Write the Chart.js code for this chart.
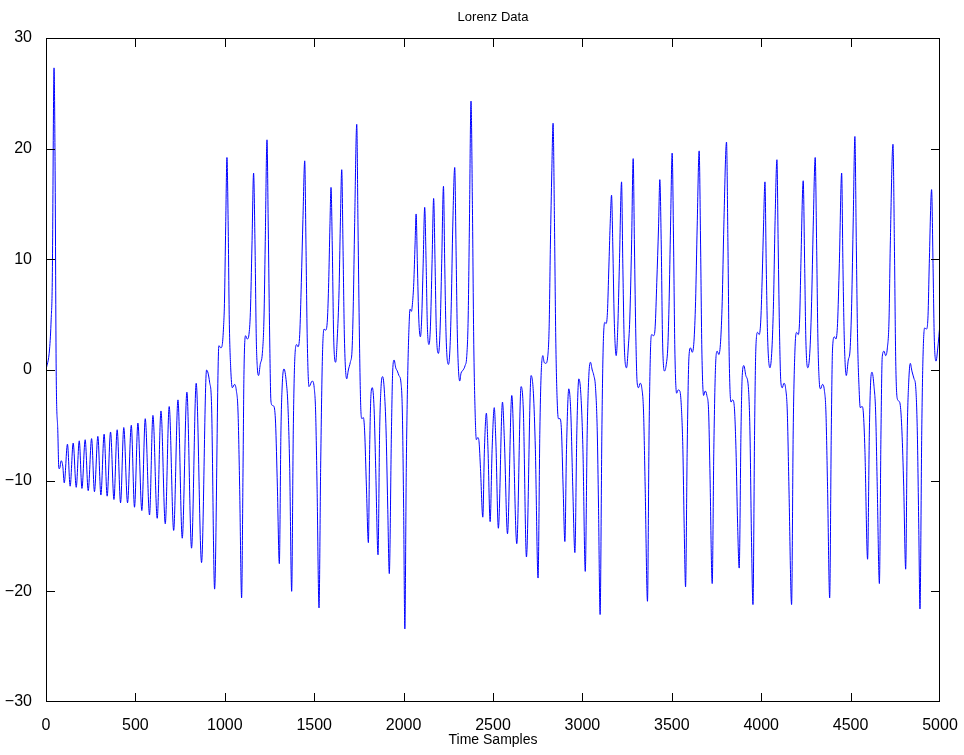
<!DOCTYPE html>
<html>
<head>
<meta charset="utf-8">
<script src="https://cdn.jsdelivr.net/npm/chart.js@4/dist/chart.umd.min.js"></script>
<style>
  html, body { margin: 0; padding: 0; background: #fff; }
  #wrap { width: 964px; height: 755px; }
</style>
</head>
<body>
<div id="wrap"><canvas id="lorenzChart" width="964" height="755"></canvas></div>
<script>
// amostras (eixo x) e valores
let amostras = [
  0, 20, 29, 35, 45, 51, 57, 66, 72, 76, 85, 94, 102, 120, 135, 152, 169, 186, 201, 219,
  236, 255, 271, 290, 307, 325, 342, 361, 380, 398, 417, 435, 456, 477, 495, 514, 536, 555, 579, 598,
  622, 643, 667, 689, 714, 738, 762, 788, 814, 840, 870, 898, 915, 926, 943, 967, 978, 986, 993, 998,
  1005, 1012, 1019, 1025, 1033, 1042, 1055, 1064, 1074, 1083, 1094, 1102, 1107, 1116, 1126, 1135, 1143, 1152, 1161, 1169,
  1176, 1182, 1189, 1198, 1210, 1219, 1226, 1236, 1243, 1251, 1258, 1266, 1275, 1284, 1294, 1305, 1314, 1322, 1331, 1344,
  1353, 1363, 1374, 1383, 1392, 1402, 1409, 1419, 1428, 1437, 1447, 1454, 1461, 1471, 1489, 1500, 1508, 1516, 1527, 1536,
  1546, 1555, 1564, 1574, 1581, 1588, 1594, 1601, 1609, 1620, 1629, 1639, 1646, 1654, 1661, 1669, 1682, 1691, 1702, 1712,
  1719, 1726, 1738, 1745, 1753, 1760, 1767, 1775, 1782, 1792, 1803, 1810, 1818, 1825, 1835, 1844, 1857, 1866, 1874, 1883,
  1892, 1902, 1911, 1920, 1932, 1939, 1947, 1956, 1965, 1974, 1985, 1993, 2000, 2007, 2015, 2023, 2032, 2036, 2044, 2049,
  2057, 2064, 2070, 2077, 2085, 2094, 2101, 2109, 2118, 2126, 2133, 2142, 2150, 2159, 2168, 2176, 2183, 2195, 2204, 2213,
  2223, 2230, 2238, 2251, 2260, 2267, 2275, 2286, 2293, 2301, 2314, 2321, 2333, 2344, 2353, 2361, 2368, 2377, 2385, 2392,
  2400, 2407, 2415, 2422, 2430, 2443, 2452, 2463, 2472, 2484, 2495, 2507, 2516, 2530, 2553, 2564, 2581, 2605, 2633, 2657,
  2670, 2687, 2713, 2726, 2737, 2752, 2762, 2769, 2779, 2786, 2795, 2806, 2814, 2821, 2829, 2836, 2844, 2851, 2859, 2866,
  2875, 2883, 2892, 2902, 2911, 2924, 2935, 2946, 2958, 2969, 2980, 2991, 3003, 3016, 3027, 3036, 3045, 3055, 3064, 3073,
  3083, 3090, 3099, 3109, 3116, 3125, 3133, 3140, 3148, 3155, 3163, 3170, 3178, 3189, 3198, 3207, 3219, 3226, 3235, 3247,
  3256, 3265, 3275, 3284, 3291, 3299, 3306, 3314, 3323, 3332, 3342, 3351, 3364, 3373, 3381, 3388, 3398, 3407, 3416, 3426,
  3433, 3441, 3448, 3459, 3469, 3478, 3485, 3493, 3502, 3510, 3517, 3527, 3536, 3545, 3553, 3562, 3569, 3577, 3586, 3596,
  3605, 3614, 3624, 3633, 3642, 3653, 3661, 3668, 3678, 3687, 3696, 3706, 3713, 3726, 3735, 3745, 3754, 3763, 3773, 3782,
  3791, 3806, 3814, 3821, 3831, 3840, 3849, 3859, 3868, 3877, 3887, 3894, 3903, 3914, 3928, 3937, 3946, 3954, 3963, 3970,
  3980, 3989, 3998, 4006, 4013, 4021, 4028, 4036, 4049, 4060, 4069, 4077, 4088, 4095, 4103, 4110, 4118, 4127, 4136, 4146,
  4155, 4170, 4179, 4189, 4198, 4207, 4215, 4222, 4235, 4243, 4250, 4261, 4273, 4282, 4291, 4302, 4310, 4317, 4325, 4332,
  4343, 4353, 4362, 4371, 4383, 4392, 4399, 4409, 4418, 4427, 4437, 4450, 4457, 4465, 4476, 4487, 4497, 4506, 4515, 4524,
  4532, 4539, 4547, 4554, 4564, 4571, 4580, 4595, 4605, 4612, 4620, 4631, 4640, 4649, 4661, 4670, 4677, 4687, 4696, 4705,
  4715, 4722, 4737, 4745, 4752, 4760, 4769, 4778, 4787, 4797, 4808, 4817, 4825, 4834, 4843, 4855, 4864, 4873, 4881, 4888,
  4898, 4905, 4914, 4924, 4933, 4940, 4953, 4961, 4968, 4978, 4987, 5000
]

let valores = [
  0, 1.9, 4.6, 7.9, 27.3, 18, -0.1, -5.5, -8.9, -8.9, -8.2, -8.7, -10.2, -6.7, -10.5, -6.6, -10.6, -6.4, -10.7, -6.3,
  -10.9, -6.2, -11.0, -6.0, -11.3, -5.8, -11.4, -5.6, -11.7, -5.4, -12.0, -5.2, -12.0, -5.0, -12.4, -4.8, -12.7, -4.4, -13.1, -4.1,
  -13.4, -3.7, -13.9, -3.3, -14.5, -2.7, -15.2, -2.0, -16.1, -1.2, -17.4, 0.0, -1.1, -3.2, -19.8, 2.2, 2.0, 2.3, 3.9, 6.0,
  13, 19.2, 13, 4.6, 0.2, -1.6, -1.3, -1.8, -3.8, -10.5, -20.6, -8.9, -0.5, 3.1, 2.8, 3.2, 5.2, 11.3, 17.8, 11.3,
  2.9, 0.2, -0.5, 0.5, 1.5, 4.6, 11.3, 20.8, 13, 2.9, -2.8, -3.2, -3.3, -4.8, -10.5, -17.5, -5.5, -1.1, 0.1, -1.1,
  -3.2, -8.9, -20.0, -5.5, 1.2, 2.3, 2.1, 3.2, 7.9, 13.6, 18.9, 11.3, 2.9, -1.5, -1.0, -1.6, -3.8, -10.5, -21.5, -8.9,
  1.2, 3.7, 3.6, 4.6, 7.9, 13, 16.5, 11.3, 2.9, 0.7, 2.9, 7.2, 13, 18.1, 11.3, 2.9, -0.8, 0, 0.7, 1.9,
  6.2, 13, 22.2, 13, 2.9, -3.2, -4.4, -4.3, -5.5, -10.5, -15.6, -7.2, -2.1, -1.6, -3.5, -8.9, -16.7, -5.5, -1.5, -0.6,
  -1.8, -5.5, -12.2, -18.4, -5.5, -0.1, 0.9, 0.2, -0.1, -0.5, -1.1, -3.8, -12.2, -23.4, -8.9, -0.5, 4.6, 5.5, 5.3, 5.9,
  7.9, 11.3, 14.1, 9.6, 4.6, 3.0, 4.6, 9.3, 14.7, 9.6, 3.9, 2.3, 3.9, 9.6, 15.5, 9.6, 3.6, 1.5, 3.6, 9.6,
  16.6, 9.6, 2.9, 0.5, 2.2, 6.2, 13, 18.3, 11.3, 2.9, -1.0, -0.3, 0, 0.4, 1.2, 4.6, 13, 24.3, 14.6, 2.9,
  -3.8, -6.3, -6.1, -6.5, -8.9, -13.3, -7.2, -3.9, -7.2, -13.7, -7.2, -3.4, -6.5, -14.3, -2.9, -6.5, -14.8, -2.3, -15.7, -1.5,
  -3.8, -16.9, -0.5, -2.1, -7.2, -18.8, -5.5, -0.5, 1.3, 0.7, 0.6, 1.2, 3.9, 11.3, 18, 22.3, 13, 2.9, -2.8, -4.4,
  -4.4, -5.5, -10.5, -15.5, -7.2, -1.7, -3.8, -10.5, -16.5, -5.5, -0.8, -2.1, -7.2, -18.2, -5.5, -0.5, 0.7, 0, -0.5, -1.5,
  -5.5, -12.2, -22.1, -5.5, 1.9, 4.3, 4.2, 5.2, 9.3, 13, 15.8, 11.3, 4.6, 1.3, 3.9, 9.6, 17.0, 9.6, 1.9, 0.2,
  1.9, 4.6, 11.3, 19.1, 11.3, 2.9, -1.1, -1.6, -1.2, -1.6, -3.8, -10.5, -20.9, -5.5, 1.9, 3.2, 3.1, 3.9, 7.9, 13,
  17.2, 11.3, 2.9, -0.1, 0.5, 2.2, 6.2, 13, 19.6, 11.3, 1.9, -2.1, -1.8, -1.9, -3.2, -7.2, -13.9, -19.6, -7.2, 1.2,
  2.0, 1.6, 2.6, 6.2, 13, 19.8, 11.3, 1.9, -2.3, -1.9, -2.3, -3.8, -8.9, -19.3, -7.2, 0.5, 1.7, 1.4, 2.6, 6.2,
  13, 20.6, 11.3, 1.2, -2.9, -2.7, -3.2, -7.2, -13.9, -17.9, -5.5, -0.5, 0.4, -0.5, -1.5, -5.5, -15.6, -21.2, -5.5, 1.9,
  3.4, 3.2, 4.6, 8.6, 13, 17.0, 9.6, 2.9, 0.2, 1.9, 6.2, 13, 19.0, 11.3, 2.9, -1.1, -1.6, -1.2, -1.6, -3.8,
  -10.5, -21.2, -5.5, 1.9, 3.4, 3.2, 4.6, 9.6, 17.1, 9.6, 2.6, 0.2, 1.9, 6.2, 13, 19.2, 11.3, 2.9, -1.1, -1.7,
  -1.3, -1.8, -3.8, -10.5, -20.6, -5.5, 1.9, 3.0, 2.8, 4.2, 9.6, 17.8, 9.6, 2.6, -0.5, 0.9, 1.8, 6.0, 13.8, 21.1,
  11.3, 2.9, -1.5, -3.4, -3.3, -3.8, -7.2, -17.1, -5.5, -1.1, -0.2, -1.5, -3.8, -10.5, -19.3, -5.5, 1.2, 1.7, 1.3, 1.9,
  4.6, 11.3, 20.4, 11.3, 1.2, -2.5, -2.8, -3.2, -5.5, -10.5, -18.0, -5.5, -1.1, 0.6, -0.1, -0.8, -1.5, -5.5, -13.9, -21.6,
  -5.5, 1.2, 3.8, 3.7, 4.9, 9.6, 16.3, 9.6, 2.9, 0.8, 1.9, 4.2
]

let ticksX = [0, 500, 1000, 1500, 2000, 2500, 3000, 3500, 4000, 4500, 5000]
let ticksY = [-30, -20, -10, 0, 10, 20, 30]

let fonte = 'Liberation Sans, Arial, Helvetica, sans-serif'

// caixa fechada com ticks para dentro, nos quatro lados
let caixa = {
  id: 'caixa',
  afterDraw(chart) {
    let ctx = chart.ctx
    let a = chart.chartArea
    let sx = chart.scales.x
    let sy = chart.scales.y
    let L = 9
    ctx.save()
    ctx.strokeStyle = '#000'
    ctx.lineWidth = 1
    ctx.beginPath()
    ticksX.forEach(v => {
      let px = Math.min(Math.round(sx.getPixelForValue(v)) + 0.5, a.right - 0.5)
      ctx.moveTo(px, a.bottom); ctx.lineTo(px, a.bottom - L)
      ctx.moveTo(px, a.top); ctx.lineTo(px, a.top + L)
    })
    ticksY.forEach(v => {
      let py = Math.min(Math.round(sy.getPixelForValue(v)) + 0.5, a.bottom - 0.5)
      ctx.moveTo(a.left, py); ctx.lineTo(a.left + L, py)
      ctx.moveTo(a.right, py); ctx.lineTo(a.right - L, py)
    })
    ctx.stroke()
    ctx.strokeRect(a.left + 0.5, a.top + 0.5, a.right - a.left - 1, a.bottom - a.top - 1)
    ctx.restore()
  }
}

let ctx = document.getElementById('lorenzChart').getContext('2d')
let chart = new Chart(ctx, {
  type: 'line',
  data: {
    datasets: [{
      label: 'Lorenz',
      data: amostras.map((t, i) => ({ x: t, y: valores[i] })),
      borderColor: 'rgb(0, 0, 255)',
      borderWidth: 1,
      pointRadius: 0,
      fill: false,
      cubicInterpolationMode: 'monotone'
    }]
  },
  options: {
    responsive: false,
    animation: false,
    devicePixelRatio: 1,
    layout: { padding: 0 },
    plugins: {
      legend: { display: false },
      tooltip: { enabled: false },
      title: { display: false }
    },
    scales: {
      x: {
        type: 'linear',
        position: 'bottom',
        min: 0,
        max: 5000,
        grid: { display: false },
        border: { display: false },
        afterBuildTicks: s => { s.ticks = ticksX.map(v => ({ value: v })) },
        afterFit: s => { s.height = 53 },
        ticks: {
          color: '#000',
          font: { family: fonte, size: 16 },
          padding: 6,
          maxRotation: 0,
          autoSkip: false,
          callback: v => '' + v
        },
        title: {
          display: true,
          text: 'Time Samples',
          color: '#000',
          font: { family: fonte, size: 14 },
          padding: { top: 0, bottom: 6 }
        }
      },
      // eixo de cima so para o titulo ficar centrado na area do grafico
      x2: {
        type: 'linear',
        position: 'top',
        min: 0,
        max: 5000,
        grid: { display: false },
        border: { display: false },
        ticks: { display: false },
        afterFit: s => { s.height = 38 },
        title: {
          display: true,
          text: 'Lorenz Data',
          color: '#000',
          font: { family: fonte, size: 13 },
          padding: { top: 10, bottom: 0 }
        }
      },
      y: {
        type: 'linear',
        position: 'left',
        min: -30,
        max: 30,
        grid: { display: false },
        border: { display: false },
        afterBuildTicks: s => { s.ticks = ticksY.map(v => ({ value: v })) },
        afterFit: s => { s.width = 46 },
        ticks: {
          color: '#000',
          font: { family: fonte, size: 16 },
          padding: 6,
          callback: v => v < 0 ? '\u2212' + Math.abs(v) : '' + v
        }
      },
      y2: {
        type: 'linear',
        position: 'right',
        min: -30,
        max: 30,
        grid: { display: false },
        border: { display: false },
        ticks: { display: false },
        afterFit: s => { s.width = 24 }
      }
    }
  },
  plugins: [caixa]
})
</script>
</body>
</html>
